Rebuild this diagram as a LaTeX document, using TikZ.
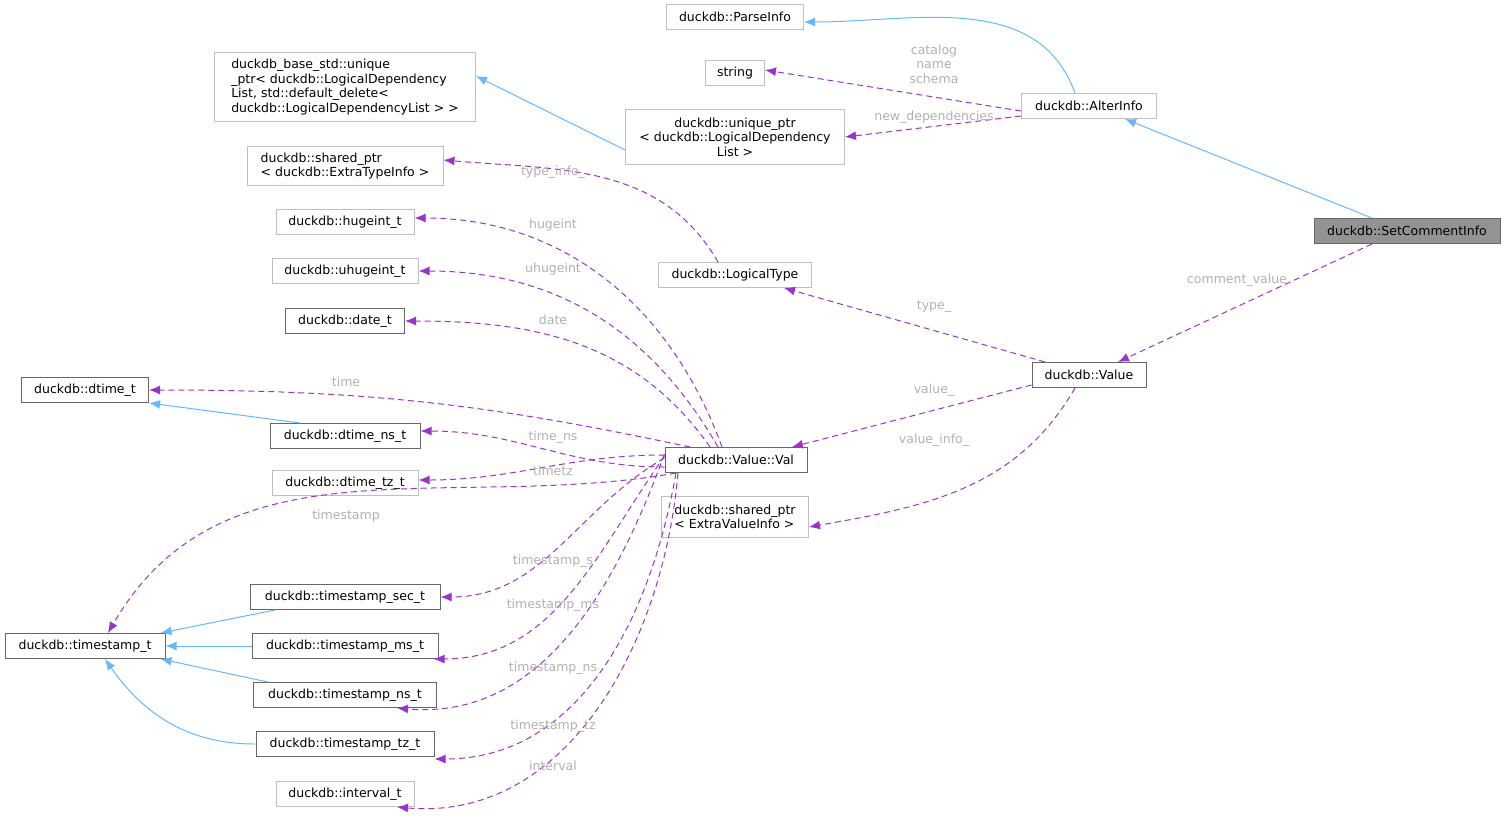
\documentclass[tikz,border=0pt]{standalone}
\usepackage{fontspec}
\setmainfont{DejaVu Sans}
\usetikzlibrary{arrows.meta}
\definecolor{inhblue}{HTML}{63B8FF}
\definecolor{usepurple}{HTML}{9A32CD}
\definecolor{edgegray}{HTML}{666666}
\definecolor{lightbox}{HTML}{BFBFBF}
\definecolor{labelgray}{HTML}{B0B0B0}
\begin{document}
\begin{tikzpicture}[x=1pt, y=-1pt, font=\fontsize{12.5}{14.5}\selectfont, line width=1pt]
          \tikzstyle{cls}=[draw=edgegray, fill=white, inner sep=0pt, align=center, minimum height=25pt]
          \tikzstyle{ext}=[cls, draw=lightbox]
          \tikzstyle{inh}=[draw=inhblue, -{Latex[length=11pt, width=9pt]}]
          \tikzstyle{use}=[draw=usepurple, dash pattern=on 6pt off 4pt, -{Latex[length=11pt, width=9pt]}]
          \tikzstyle{lbl}=[text=labelgray, align=center, inner sep=1pt, font=\fontsize{12.5}{14.5}\selectfont]

          \useasboundingbox (0,0) rectangle (1505,823);

          \node[ext, minimum width=137pt] (parse) at (735,17) {duckdb::ParseInfo};
          \node[ext, minimum width=59pt] (str) at (735,73) {string};
          \node[ext, minimum width=261pt, minimum height=69pt, align=left] (stdptr) at (345,87) {duckdb\_base\_std::unique\\\_ptr< duckdb::LogicalDependency\\List, std::default\_delete<\\ duckdb::LogicalDependencyList > >};
          \node[ext, minimum width=219pt, minimum height=55pt] (depptr) at (735,137) {duckdb::unique\_ptr\\< duckdb::LogicalDependency\\List >};
          \node[ext, minimum width=135pt] (alter) at (1089,106) {duckdb::AlterInfo};
          \node[cls, fill=gray!85, minimum width=186pt] (setc) at (1407,231) {duckdb::SetCommentInfo};
          \node[ext, minimum width=196pt, minimum height=39pt, align=left] (typeptr) at (345,166) {duckdb::shared\_ptr\\< duckdb::ExtraTypeInfo >};
          \node[ext, minimum width=138pt] (huge) at (345,222) {duckdb::hugeint\_t};
          \node[ext, minimum width=146pt] (uhuge) at (345,271) {duckdb::uhugeint\_t};
          \node[cls, minimum width=119pt] (date) at (345,321) {duckdb::date\_t};
          \node[ext, minimum width=153pt] (ltype) at (735,275) {duckdb::LogicalType};
          \node[cls, minimum width=127pt] (dtime) at (85,390) {duckdb::dtime\_t};
          \node[cls, minimum width=150pt] (dtimens) at (345,436) {duckdb::dtime\_ns\_t};
          \node[cls, minimum width=142pt] (val) at (736,460) {duckdb::Value::Val};
          \node[cls, minimum width=114pt] (value) at (1089,375) {duckdb::Value};
          \node[ext, minimum width=146pt] (dtimetz) at (345,483) {duckdb::dtime\_tz\_t};
          \node[ext, minimum width=147pt, minimum height=41pt, align=left] (valptr) at (735,517) {duckdb::shared\_ptr\\< ExtraValueInfo >};
          \node[cls, minimum width=160pt] (ts) at (85,646) {duckdb::timestamp\_t};
          \node[cls, minimum width=190pt] (tssec) at (345,597) {duckdb::timestamp\_sec\_t};
          \node[cls, minimum width=186pt] (tsms) at (345,646) {duckdb::timestamp\_ms\_t};
          \node[cls, minimum width=183pt] (tsns) at (345,695) {duckdb::timestamp\_ns\_t};
          \node[cls, minimum width=178pt] (tstz) at (345,744) {duckdb::timestamp\_tz\_t};
          \node[ext, minimum width=138pt] (intv) at (345,794) {duckdb::interval\_t};

          % inheritance
          \draw[inh] ([xshift=-14pt]alter.north) to[out=110, in=0] ([yshift=-5pt]parse.east);
          \draw[inh] ([yshift=-13pt]depptr.west) -- ([yshift=11pt]stdptr.east);
          \draw[inh] ([xshift=-35pt]setc.north) -- ([xshift=36pt]alter.south);
          \draw[inh] ([xshift=-45pt]dtimens.north) -- (dtime.south east);
          \draw[inh] ([xshift=-70pt]tssec.south) -- ([xshift=-5pt]ts.north east);
          \draw[inh] (tsms.west) -- (ts.east);
          \draw[inh] ([xshift=-77pt]tsns.north) -- ([xshift=-5pt]ts.south east);
          \draw[inh] (tstz.west) to[out=180, in=-55] ([xshift=20pt]ts.south);

          % members
          \draw[use] ([yshift=-5pt]alter.west) -- ([yshift=3pt]str.east);
          \draw[use] ([yshift=3pt]alter.south west) -- (depptr.east);
          \draw[use] ([xshift=-35pt]setc.south) -- ([xshift=29pt]value.north);
          \draw[use] ([xshift=-44pt]value.north) -- ([xshift=49pt]ltype.south);
          \draw[use] ([yshift=3pt]value.south west) -- ([xshift=56pt]val.north);
          \draw[use] ([xshift=-14pt]value.south) to[out=-120, in=10] ([yshift=-10pt]valptr.east);
          \draw[use] ([xshift=-17pt]ltype.north) to[out=120, in=-5] ([yshift=6pt]typeptr.east);
          \draw[use] ([xshift=-14pt]val.north) to[out=110, in=0] ([yshift=4pt]huge.east);
          \draw[use] ([xshift=-18pt]val.north) to[out=120, in=0] (uhuge.east);
          \draw[use] ([xshift=-26pt]val.north) to[out=125, in=0] (date.east);
          \draw[use] ([xshift=-46pt]val.north) to[out=168, in=0] (dtime.east);
          \draw[use] ([yshift=-7pt]val.west) to[out=180, in=0] ([yshift=5pt]dtimens.east);
          \draw[use] ([yshift=5pt]val.west) to[out=180, in=0] ([yshift=3pt]dtimetz.east);
          \draw[use] ([xshift=-60pt]val.south) to[out=190, in=60] ([xshift=23pt]ts.north);
          \draw[use] ([yshift=2pt]val.west) to[out=210, in=0] (tssec.east);
          \draw[use] ([yshift=4pt]val.west) to[out=235, in=0] ([xshift=-5pt]tsms.south east);
          \draw[use] ([yshift=6pt]val.west) to[out=250, in=-5] ([xshift=52pt]tsns.south);
          \draw[use] ([xshift=-60pt]val.south) to[out=260, in=0] ([yshift=-2pt]tstz.south east);
          \draw[use] ([xshift=-58pt]val.south) to[out=265, in=-5] ([xshift=52pt]intv.south);

          \node[lbl] (lcat) at (934,64) {catalog\\name\\schema};
          \node[lbl] (lnew) at (934,117) {new\_dependencies};
          \node[lbl] (lcom) at (1237,280) {comment\_value};
          \node[lbl] (ltyp) at (934,307) {type\_};
          \node[lbl] (lval) at (934,390) {value\_};
          \node[lbl] (lvin) at (934,440) {value\_info\_};
          \node[lbl] (ltin) at (553,172) {type\_info\_};
          \node[lbl] (lhug) at (553,225) {hugeint};
          \node[lbl] (luhu) at (553,269) {uhugeint};
          \node[lbl] (ldat) at (553,320) {date};
          \node[lbl] (ltim) at (346,382) {time};
          \node[lbl] (ltns) at (553,437) {time\_ns};
          \node[lbl] (ltz) at (553,471) {timetz};
          \node[lbl] (lts) at (346,516) {timestamp};
          \node[lbl] (ltss) at (553,561) {timestamp\_s};
          \node[lbl] (ltsm) at (553,605) {timestamp\_ms};
          \node[lbl] (ltsn) at (553,668) {timestamp\_ns};
          \node[lbl] (ltst) at (553,726) {timestamp\_tz};
          \node[lbl] (lint) at (553,766) {interval};
\end{tikzpicture}
\end{document}
